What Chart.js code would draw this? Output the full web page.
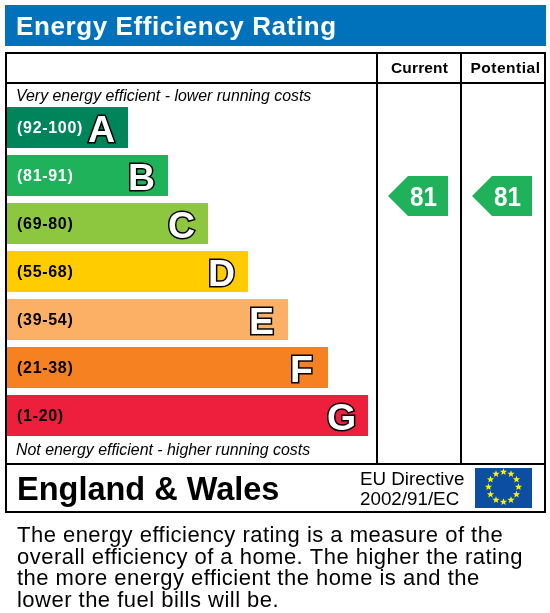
<!DOCTYPE html>
<html>
<head>
<meta charset="utf-8">
<title>Energy Efficiency Rating</title>
<style>
  html, body { margin: 0; padding: 0; background: #fff; }
  canvas { display: block; }
</style>
<script src="https://cdn.jsdelivr.net/npm/chart.js@4"></script>
</head>
<body>
<canvas id="grafico" width="550" height="613"></canvas>
<script>
const faixas = ["(92-100)", "(81-91)", "(69-80)", "(55-68)", "(39-54)", "(21-38)", "(1-20)"];
const letras = ["A", "B", "C", "D", "E", "F", "G"];
const comprimentos = [3, 4, 5, 6, 7, 8, 9];
const pisoFaixa = [92, 81, 69, 55, 39, 21, 1];
const notaAtual = [81];
const notaPotencial = [81];
const paragrafo = [
  "The energy efficiency rating is a measure of the",
  "overall efficiency of a home. The higher the rating",
  "the more energy efficient the home is and the",
  "lower the fuel bills will be.",
];

const FONTE = '"Liberation Sans", Arial, sans-serif';

function escrever(ctx, texto, x, y, fonte, cor, alinhar, espaco) {
  ctx.font = fonte + " " + FONTE;
  ctx.fillStyle = cor;
  ctx.textAlign = alinhar || "left";
  ctx.textBaseline = "alphabetic";
  ctx.letterSpacing = espaco || "0px";
  ctx.fillText(texto, x, y);
  ctx.letterSpacing = "0px";
}

function desenharMoldura(ctx) {
  ctx.fillStyle = "#0072bc";
  ctx.fillRect(5, 5, 541, 41);
  escrever(ctx, "Energy Efficiency Rating", 16, 35, "bold 26px", "#fff", "left", "0.6px");

  ctx.strokeStyle = "#000";
  ctx.lineWidth = 2;
  ctx.strokeRect(6, 53, 539, 459);
  ctx.beginPath();
  ctx.moveTo(6, 83); ctx.lineTo(545, 83);
  ctx.moveTo(6, 464); ctx.lineTo(545, 464);
  ctx.moveTo(377, 53); ctx.lineTo(377, 464);
  ctx.moveTo(461, 53); ctx.lineTo(461, 464);
  ctx.stroke();

  escrever(ctx, "Current", 419.5, 73, "bold 15.5px", "#000", "center", "0.15px");
  escrever(ctx, "Potential", 505.5, 73, "bold 15.5px", "#000", "center", "0.5px");
  escrever(ctx, "Very energy efficient - lower running costs", 16, 101, "italic 15.9px", "#000");
  escrever(ctx, "Not energy efficient - higher running costs", 16, 455, "italic 15.9px", "#000");
  escrever(ctx, "England & Wales", 17, 500, "bold 32.5px", "#000");
  escrever(ctx, "EU Directive", 360, 485, "18.8px", "#000");
  escrever(ctx, "2002/91/EC", 360, 505, "18.8px", "#000");
}

function desenharBandeira(ctx) {
  const cx = 503.5, cy = 487;
  ctx.fillStyle = "#0b4ea2";
  ctx.fillRect(475, 468, 57, 40);
  ctx.fillStyle = "#fff200";
  for (let i = 0; i < 12; i++) {
    const a = i * Math.PI / 6;
    const sx = cx + 15 * Math.sin(a);
    const sy = cy - 15 * Math.cos(a);
    ctx.beginPath();
    for (let k = 0; k < 10; k++) {
      const r = k % 2 ? 1.6 : 3.8;
      const b = k * Math.PI / 5;
      ctx.lineTo(sx + r * Math.sin(b), sy - r * Math.cos(b));
    }
    ctx.closePath();
    ctx.fill();
  }
}

function desenharEtiqueta(ctx, nota, esquerda, barras) {
  // a etiqueta fica na borda de baixo da barra da faixa
  const idx = pisoFaixa.findIndex((p) => nota >= p);
  const barra = barras[idx];
  const y = Math.floor(barra.y + barra.height / 2);
  ctx.fillStyle = barra.options.backgroundColor;
  ctx.beginPath();
  ctx.moveTo(esquerda, y);
  ctx.lineTo(esquerda + 20, y - 20);
  ctx.lineTo(esquerda + 60, y - 20);
  ctx.lineTo(esquerda + 60, y + 20);
  ctx.lineTo(esquerda + 20, y + 20);
  ctx.closePath();
  ctx.fill();
  ctx.font = "bold 27px " + FONTE;
  ctx.fillStyle = "#fff";
  ctx.textAlign = "center";
  ctx.fillText(String(nota), esquerda + 35.5, y + 10, 27);
}

const pluginEpc = {
  id: "epc",
  afterDatasetsDraw(chart) {
    const ctx = chart.ctx;
    const barras = chart.getDatasetMeta(0).data;
    ctx.save();
    desenharMoldura(ctx);
    desenharBandeira(ctx);

    barras.forEach((barra, i) => {
      const corFaixa = i < 2 ? "#fff" : "#000";
      escrever(ctx, faixas[i], 17, barra.y + 5, "bold 16px", corFaixa, "left", "0.7px");

      ctx.font = "bold 37.5px " + FONTE;
      ctx.textAlign = "center";
      ctx.lineJoin = "miter";
      ctx.miterLimit = 3;
      ctx.lineWidth = 3;
      ctx.strokeStyle = "#000";
      ctx.fillStyle = "#fff";
      ctx.strokeText(letras[i], barra.x - 26.5, barra.y + 14);
      ctx.fillText(letras[i], barra.x - 26.5, barra.y + 14);
    });

    desenharEtiqueta(ctx, notaAtual[0], 388, barras);
    desenharEtiqueta(ctx, notaPotencial[0], 472, barras);

    paragrafo.forEach((linha, i) => {
      escrever(ctx, linha, 17, 542 + i * 21.7, "22px", "#000", "left", "0.48px");
    });
    ctx.restore();
  },
};

new Chart(document.getElementById("grafico"), {
  type: "bar",
  data: {
    labels: faixas,
    datasets: [
      {
        data: comprimentos,
        base: -0.025,
        backgroundColor: ["#00855a", "#1fb25a", "#8dc63f", "#ffcc00", "#fbb066", "#f68121", "#ed1f3d"],
        barPercentage: 41 / 48,
        categoryPercentage: 1,
      },
    ],
  },
  options: {
    indexAxis: "y",
    responsive: false,
    animation: false,
    layout: {
      padding: { left: 7, right: 182, top: 103.5, bottom: 173.5 },
    },
    plugins: {
      legend: { display: false },
      tooltip: { enabled: false },
    },
    scales: {
      x: { display: false, min: -0.025, max: 9 },
      y: { display: false },
    },
  },
  plugins: [pluginEpc],
});
</script>
</body>
</html>
